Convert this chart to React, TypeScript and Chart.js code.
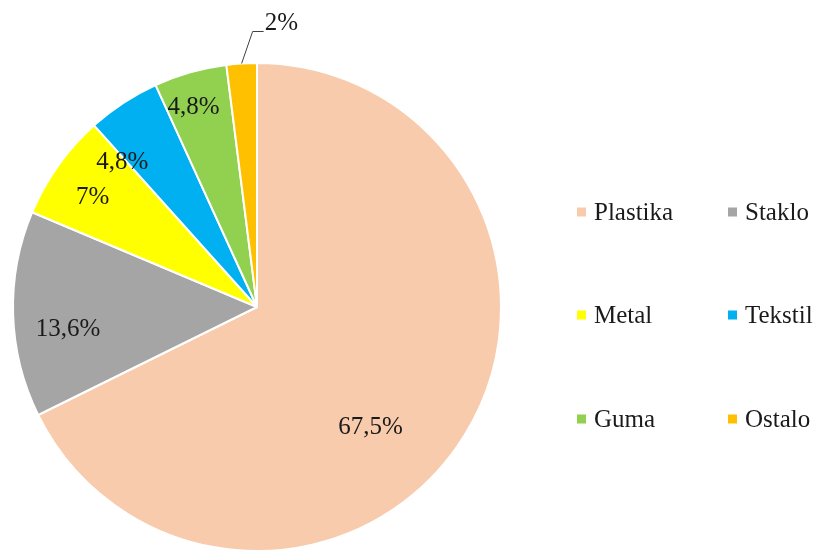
import React, { useEffect, useRef } from "react";
import { Chart, registerables } from "chart.js";

Chart.register(...registerables);

const categories = ["Plastika", "Staklo", "Metal", "Tekstil", "Guma", "Ostalo"];
const values = [67.5, 13.6, 7, 4.8, 4.8, 2];
const valueLabels = ["67,5%", "13,6%", "7%", "4,8%", "4,8%", "2%"];
const colors = ["#F8CBAD", "#A5A5A5", "#FFFF00", "#00B0F0", "#92D050", "#FFC000"];

const FONT = "'Liberation Serif', 'Times New Roman', serif";

// label placement: fraction of radius, angle shift (radians) relative to slice mid-angle
const labelRadius = [0.68, 0.78, 0.81, 0.81, 0.86, 1.0];
const labelShift = [0.26, -0.09, -0.03, -0.17, -0.03, 0];

const labelsPlugin = {
  id: "sliceLabels",
  afterDatasetsDraw(chart: any) {
    const ctx = chart.ctx;
    const meta = chart.getDatasetMeta(0);
    ctx.save();
    ctx.font = `25px ${FONT}`;
    ctx.fillStyle = "#1a1a1a";
    ctx.textBaseline = "middle";
    meta.data.forEach((arc: any, i: number) => {
      const { x, y, startAngle, endAngle, outerRadius } = arc.getProps(
        ["x", "y", "startAngle", "endAngle", "outerRadius"],
        true
      );
      const mid = (startAngle + endAngle) / 2 + labelShift[i];
      if (i === values.length - 1) {
        const r = outerRadius;
        const x0 = x + Math.cos(mid) * r;
        const y0 = y + Math.sin(mid) * r;
        ctx.strokeStyle = "#404040";
        ctx.lineWidth = 1;
        ctx.beginPath();
        ctx.moveTo(x0, y0);
        ctx.lineTo(x0 + 11, y0 - 32);
        ctx.lineTo(x0 + 22, y0 - 32);
        ctx.stroke();
        ctx.textAlign = "left";
        ctx.fillText(valueLabels[i], x0 + 23, y0 - 40);
      } else {
        const r = outerRadius * labelRadius[i];
        ctx.textAlign = "center";
        ctx.fillText(valueLabels[i], x + Math.cos(mid) * r, y + Math.sin(mid) * r);
      }
    });
    ctx.restore();
  },
};

const legendPlugin = {
  id: "customLegend",
  afterDraw(chart: any) {
    const ctx = chart.ctx;
    ctx.save();
    ctx.font = `25px ${FONT}`;
    ctx.textBaseline = "middle";
    ctx.textAlign = "left";
    const colX = [577, 728];
    const rowY = [212, 315, 419];
    categories.forEach((c, i) => {
      const cx = colX[i % 2];
      const cy = rowY[Math.floor(i / 2)];
      ctx.fillStyle = colors[i];
      ctx.fillRect(cx, cy - 4.5, 9, 9);
      ctx.fillStyle = "#1a1a1a";
      ctx.fillText(c, cx + 17, cy + 1);
    });
    ctx.restore();
  },
};

export default function App() {
  const ref = useRef<HTMLCanvasElement>(null);
  useEffect(() => {
    document.body.style.margin = "0";
    const chart = new Chart(ref.current!, {
      type: "pie",
      data: {
        labels: categories,
        datasets: [
          {
            data: values,
            backgroundColor: colors,
            borderColor: "#ffffff",
            borderWidth: 2,
          },
        ],
      },
      options: {
        responsive: false,
        animation: false,
        devicePixelRatio: 1,
        layout: { padding: { left: 12, right: 312, top: 62, bottom: 68 } },
        plugins: {
          legend: { display: false },
          tooltip: { enabled: false },
        },
      },
      plugins: [labelsPlugin, legendPlugin],
    });
    return () => chart.destroy();
  }, []);
  return (
    <div
      style={{
        position: "absolute",
        left: 0,
        top: 0,
        width: 814,
        height: 551,
        overflow: "hidden",
        background: "#fff",
      }}
    >
      <canvas ref={ref} width={814} height={620} />
    </div>
  );
}
